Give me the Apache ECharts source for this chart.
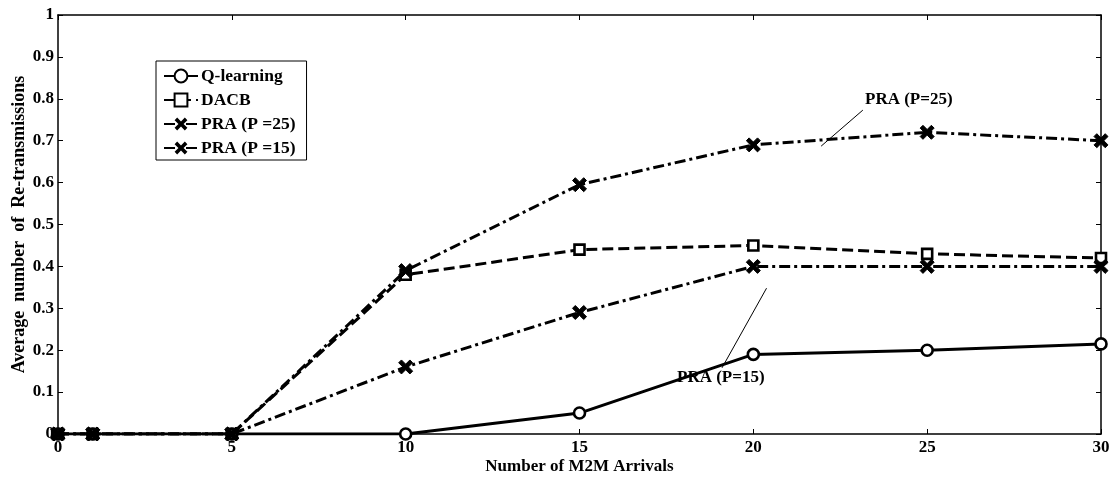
<!DOCTYPE html>
<html>
<head>
<meta charset="utf-8">
<script src="https://cdn.jsdelivr.net/npm/echarts@6/dist/echarts.min.js"></script>
<style>html,body{margin:0;padding:0;background:#fff;}#c{width:1111px;height:477px;}</style>
</head>
<body>
<div id="c"></div>
<script>
var arrivals = [0, 1, 5, 10, 15, 20, 25, 30];
var qLearning = [0, 0, 0, 0, 0.05, 0.19, 0.2, 0.215];
var dacb = [0, 0, 0, 0.38, 0.44, 0.45, 0.43, 0.42];
var pra25 = [0, 0, 0, 0.39, 0.595, 0.69, 0.72, 0.70];
var pra15 = [0, 0, 0, 0.16, 0.29, 0.40, 0.40, 0.40];
var seriesNames = ['Q-learning', 'DACB', 'PRA (P =25)', 'PRA (P =15)'];
var xTicks = [0, 5, 10, 15, 20, 25, 30];

function pairs(v) { return arrivals.map(function (x, i) { return [x, v[i]]; }); }
var FONT = 'Liberation Serif';
var xSym = 'path://M2,0 L5,3 L8,0 L10,2 L7,5 L10,8 L8,10 L5,7 L2,10 L0,8 L3,5 L0,2 Z';

var chart = echarts.init(document.getElementById('c'), null, {renderer: 'canvas'});
var base = {
  type: 'line', xAxisIndex: 0, yAxisIndex: 0, animation: false,
  lineStyle: {color: '#000', width: 3},
  itemStyle: {color: '#000', borderColor: '#000'},
  emphasis: {disabled: true}
};
function mk(extra) { return Object.assign({}, base, extra); }
var tickFont = {fontFamily: FONT, fontWeight: 'bold', fontSize: 17, color: '#000'};

chart.setOption({
  animation: false,
  backgroundColor: '#fff',
  textStyle: {fontFamily: FONT, fontWeight: 'bold', color: '#000'},
  grid: {left: 58, right: 10, top: 15, bottom: 43, containLabel: false, outerBoundsMode: 'none'},
  legend: {
    data: seriesNames,
    orient: 'vertical',
    left: 156, top: 61,
    width: 151,
    padding: [6, 11, 3, 7],
    itemGap: 6,
    itemWidth: 34, itemHeight: 16,
    borderColor: '#000', borderWidth: 1,
    backgroundColor: '#fff',
    textStyle: {fontFamily: FONT, fontWeight: 'bold', fontSize: 17.5, color: '#000', padding: [0, 0, 0, -2]}
  },
  xAxis: [{
    type: 'value', min: 0, max: 30, interval: 5,
    name: 'Number of M2M Arrivals', nameLocation: 'middle', nameGap: 24, nameMoveOverlap: false,
    nameTextStyle: {fontFamily: FONT, fontWeight: 'bold', fontSize: 17, color: '#000'},
    axisLine: {show: true, onZero: false, lineStyle: {color: '#000', width: 1.5}},
    axisTick: {show: true, inside: true, length: 5, lineStyle: {color: '#000'}},
    axisLabel: Object.assign({margin: 5, customValues: xTicks}, tickFont),
    splitLine: {show: false}
  }, {
    type: 'value', min: 0, max: 30, interval: 5, position: 'top',
    axisLine: {show: true, onZero: false, lineStyle: {color: '#000', width: 1.5}},
    axisTick: {show: true, inside: true, length: 5, lineStyle: {color: '#000'}},
    axisLabel: {show: false}, splitLine: {show: false}
  }],
  yAxis: [{
    type: 'value', min: 0, max: 1, interval: 0.1,
    name: 'Average  number  of  Re-transmissions', nameLocation: 'middle', nameGap: 30, nameMoveOverlap: false,
    nameTextStyle: {fontFamily: FONT, fontWeight: 'bold', fontSize: 18, color: '#000'},
    axisLine: {show: true, onZero: false, lineStyle: {color: '#000', width: 1.5}},
    axisTick: {show: true, inside: true, length: 5, lineStyle: {color: '#000'}},
    axisLabel: Object.assign({margin: 4}, tickFont),
    splitLine: {show: false}
  }, {
    type: 'value', min: 0, max: 1, interval: 0.1, position: 'right',
    axisLine: {show: true, onZero: false, lineStyle: {color: '#000', width: 1.5}},
    axisTick: {show: true, inside: true, length: 5, lineStyle: {color: '#000'}},
    axisLabel: {show: false}, splitLine: {show: false}
  }],
  series: [
    mk({name: seriesNames[0], data: pairs(qLearning), symbol: 'circle', symbolSize: 11,
      itemStyle: {color: '#fff', borderColor: '#000', borderWidth: 2.6}, z: 2}),
    mk({name: seriesNames[1], data: pairs(dacb), symbol: 'rect', symbolSize: 10,
      lineStyle: {color: '#000', width: 3, type: [11, 5]},
      itemStyle: {color: '#fff', borderColor: '#000', borderWidth: 2.6}, z: 3}),
    mk({name: seriesNames[2], data: pairs(pra25), symbol: xSym, symbolSize: 14,
      lineStyle: {color: '#000', width: 3, type: [11, 4, 3, 4]}, z: 4}),
    mk({name: seriesNames[3], data: pairs(pra15), symbol: xSym, symbolSize: 14,
      lineStyle: {color: '#000', width: 3, type: [11, 4, 3, 4]}, z: 5}),
    {
      type: 'line', data: [], silent: true, animation: false, z: 6,
      markLine: {
        silent: true, animation: false,
        symbol: ['none', 'arrow'], symbolSize: [0, 9],
        lineStyle: {color: '#000', width: 1, type: 'solid'},
        label: {show: false},
        data: [
          [{coord: [23.15, 0.773]}, {coord: [21.95, 0.687]}],
          [{coord: [19.1, 0.158]}, {coord: [20.38, 0.348]}]
        ]
      }
    }
  ],
  graphic: [
    {type: 'text', left: 865, top: 91, z: 10,
      style: {text: 'PRA (P=25)', fontFamily: FONT, fontWeight: 'bold', fontSize: 17, fill: '#000'}},
    {type: 'text', left: 677, top: 369, z: 10,
      style: {text: 'PRA (P=15)', fontFamily: FONT, fontWeight: 'bold', fontSize: 17, fill: '#000'}}
  ]
});
</script>
</body>
</html>
